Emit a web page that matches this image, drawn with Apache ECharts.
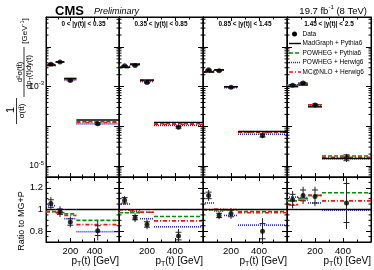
<!DOCTYPE html>
<html><head><meta charset="utf-8">
<script src="https://cdn.jsdelivr.net/npm/echarts@6/dist/echarts.min.js"></script>
<style>html,body{margin:0;padding:0;background:#fff}#c{width:374px;height:270px}</style>
</head><body><div id="c"></div>
<script>
// ---------------- data ----------------
const binEdges = [0, 80, 150, 250, 600];
const binCenters = [40, 115, 200, 425];
const panelTitles = ['0 < |y(t)| < 0.35', '0.35 < |y(t)| < 0.85', '0.85 < |y(t)| < 1.45', '1.45 < |y(t)| < 2.5'];
// MadGraph + Pythia6 absolute prediction [GeV^-1], per |y| panel, per pT bin
const mgPythia = [
  [3.5e-3, 4.25e-3, 1.62e-3, 1.45e-4],
  [3.1e-3, 3.7e-3, 1.47e-3, 1.26e-4],
  [2.35e-3, 2.65e-3, 1.0e-3, 7.4e-5],
  [1.0e-3, 1.1e-3, 3.1e-4, 1.55e-5]
];
// ratios to MadGraph + Pythia6
const dataRatio = [
  [1.055, 0.98, 0.885, 0.805],
  [1.085, 0.925, 0.862, 0.755],
  [1.13, 0.945, 0.963, 0.80],
  [1.09, 1.13, 1.12, 1.06]
];
const dataTotErr = [
  [0.06, 0.05, 0.05, 0.09],
  [0.04, 0.04, 0.045, 0.065],
  [0.05, 0.035, 0.05, 0.12],
  [0.08, 0.08, 0.09, 0.24]
];
const dataStatErr = [
  [0.035, 0.025, 0.03, 0.045],
  [0.025, 0.02, 0.025, 0.035],
  [0.03, 0.02, 0.03, 0.07],
  [0.05, 0.05, 0.06, 0.18]
];
const powhegPythiaRatio = [
  [0.98, 0.97, 0.96, 0.90],
  [0.97, 0.97, 0.975, 0.935],
  [0.995, 0.995, 0.995, 0.98],
  [1.08, 1.10, 1.13, 1.155]
];
const powhegHerwigRatio = [
  [1.035, 0.975, 0.915, 0.795],
  [1.05, 0.98, 0.915, 0.84],
  [1.06, 0.985, 0.945, 0.856],
  [1.115, 1.11, 1.06, 0.995]
];
const mcnloRatio = [
  [0.98, 0.97, 0.945, 0.86],
  [0.995, 0.99, 0.975, 0.895],
  [1.0, 1.005, 1.0, 0.97],
  [1.045, 1.085, 1.13, 1.08]
];
const xTickLabels = [200, 400];
const logLabelExps = [-3, -5];
const logMinorTicks = [6e-6,7e-6,8e-6,9e-6, 2e-5,3e-5,4e-5,5e-5,6e-5,7e-5,8e-5,9e-5,
  2e-4,3e-4,4e-4,5e-4,6e-4,7e-4,8e-4,9e-4, 2e-3,3e-3,4e-3,5e-3,6e-3,7e-3,8e-3,9e-3, 2e-2,3e-2,4e-2,5e-2];
const ratioLabels = [0.8, 1, 1.2];
const ratioMinorTicks = [0.75, 0.85, 0.9, 0.95, 1.05, 1.1, 1.15, 1.25];

// ---------------- layout / style ----------------
const F = 'Liberation Sans, Arial, Helvetica, sans-serif';
const PX = [[46, 73], [119, 84], [203, 84], [287, 84]];
const TOP = [17, 160], RAT = [177, 65];
const C_MG = '#000000', C_PP = '#0a8a0a', C_PH = '#2020ff', C_MC = '#ff1010';
const D_PP = [4, 2], D_PH = [1, 1], D_MC = [4, 2, 1, 2];

const chart = echarts.init(document.getElementById('c'), null, {renderer: 'canvas'});
const grids = [], xAxes = [], yAxes = [], series = [];
const blk = {color: '#000', width: 1};

for (let g = 0; g < 8; g++) {
  const p = g % 4, [gx, gw] = PX[p], [gy, gh] = g < 4 ? TOP : RAT;
  grids.push({left: gx, top: gy, width: gw, height: gh, show: true, borderColor: '#000', borderWidth: 1,
    backgroundColor: 'transparent', containLabel: false, outerBoundsMode: 'none'});
}
for (let k = 0; k < 2; k++) {
  for (let g = 0; g < 8; g++) {
    const bottomLabels = (k === 0 && g >= 4);
    xAxes.push({type: 'value', gridIndex: g, min: 0, max: 600, interval: 200,
      position: k === 0 ? 'bottom' : 'top',
      axisLine: {show: true, onZero: false, lineStyle: blk},
      axisTick: {show: true, inside: true, length: 4, lineStyle: blk},
      minorTick: {show: true, splitNumber: 2, length: 2.5, lineStyle: blk},
      splitLine: {show: false}, minorSplitLine: {show: false},
      axisLabel: bottomLabels ? {show: true, margin: 4, fontSize: 9.5, fontFamily: F, color: '#000',
        showMinLabel: false, showMaxLabel: false,
        formatter: v => xTickLabels.indexOf(Math.round(v)) >= 0 ? String(Math.round(v)) : ''} : {show: false}
    });
  }
}
for (let k = 0; k < 2; k++) {
  for (let g = 0; g < 8; g++) {
    const p = g % 4, withLabels = (k === 0 && p === 0);
    const common = {gridIndex: g, position: k === 0 ? 'left' : 'right',
      axisLine: {show: true, onZero: false, lineStyle: blk},
      axisTick: {show: true, inside: true, length: 5, lineStyle: blk},
      splitLine: {show: false}};
    if (g < 4) {
      yAxes.push(Object.assign({type: 'log', logBase: 10, min: 5.3e-6, max: 0.057,
        axisLabel: withLabels ? {show: true, margin: 2, color: '#000', fontFamily: F,
          formatter: v => {
            const e = Math.round(Math.log10(v));
            if (Math.abs(Math.log10(v) - e) > 0.01 || logLabelExps.indexOf(e) < 0) return '';
            return '{a|10}{b|' + e + '}';
          },
          rich: {a: {fontSize: 8.5, fontFamily: F, color: '#000', lineHeight: 12},
                 b: {fontSize: 6, fontFamily: F, color: '#000', verticalAlign: 'top'}}} : {show: false}
      }, common));
    } else {
      yAxes.push(Object.assign({type: 'value', min: 0.7, max: 1.3, splitNumber: 3,
        axisLabel: withLabels ? {show: true, margin: 3, color: '#000', fontFamily: F, fontSize: 9.5,
          showMinLabel: false, showMaxLabel: false,
          formatter: v => {
            for (const r of ratioLabels) if (Math.abs(v - r) < 1e-6) return String(r);
            return '';
          }} : {show: false}
      }, common));
    }
  }
}

function tickSeries(g, values, len) {
  return {type: 'custom', xAxisIndex: g, yAxisIndex: g, silent: true, z: 6,
    data: values.map(v => [300, v]), encode: {x: 0, y: 1},
    renderItem(params, api) {
      const cs = params.coordSys, y = api.coord([300, api.value(1)])[1];
      return {type: 'group', children: [
        {type: 'line', shape: {x1: cs.x, y1: y, x2: cs.x + len, y2: y}, style: {stroke: '#000', lineWidth: 1}},
        {type: 'line', shape: {x1: cs.x + cs.width - len, y1: y, x2: cs.x + cs.width, y2: y}, style: {stroke: '#000', lineWidth: 1}}
      ]};
    }};
}
function segSeries(name, g, vals, color, dash, width, z) {
  return {type: 'custom', name, xAxisIndex: g, yAxisIndex: g, z, silent: true,
    data: vals.map((v, b) => [binEdges[b], binEdges[b + 1], v]), encode: {x: [0, 1], y: 2},
    renderItem(params, api) {
      const a = api.coord([api.value(0), api.value(2)]), b = api.coord([api.value(1), api.value(2)]);
      return {type: 'line', shape: {x1: a[0], y1: a[1], x2: b[0], y2: b[1]},
        style: {stroke: color, lineWidth: width, lineDash: dash}};
    }};
}
function errSeries(g, rows) {
  return {type: 'custom', xAxisIndex: g, yAxisIndex: g, z: 9, silent: true, data: rows,
    encode: {x: 0, y: 1},
    renderItem(params, api) {
      const x = api.value(0);
      const hi = api.coord([x, api.value(3)]), lo = api.coord([x, api.value(2)]);
      const s1 = api.coord([x, api.value(5)]), s2 = api.coord([x, api.value(4)]);
      const st = {stroke: '#222', lineWidth: 1};
      return {type: 'group', children: [
        {type: 'line', shape: {x1: hi[0], y1: hi[1], x2: lo[0], y2: lo[1]}, style: st},
        {type: 'line', shape: {x1: s1[0] - 3, y1: s1[1], x2: s1[0] + 3, y2: s1[1]}, style: st},
        {type: 'line', shape: {x1: s2[0] - 3, y1: s2[1], x2: s2[0] + 3, y2: s2[1]}, style: st}
      ]};
    }};
}

for (let p = 0; p < 4; p++) {
  const gt = p, gr = 4 + p;
  const mg = mgPythia[p];
  const mult = r => mg.map((m, b) => m * r[p][b]);
  // top (absolute)
  series.push(tickSeries(gt, logMinorTicks, 2.5));
  series.push(segSeries('POWHEG + Herwig6', gt, mult(powhegHerwigRatio), C_PH, D_PH, 1.6, 3));
  series.push(segSeries('POWHEG + Pythia6', gt, mult(powhegPythiaRatio), C_PP, D_PP, 1.6, 3));
  series.push(segSeries('MC@NLO + Herwig6', gt, mult(mcnloRatio), C_MC, D_MC, 1.6, 3));
  series.push(segSeries('MadGraph + Pythia6', gt, mg, C_MG, null, 1.4, 4));
  const dTop = mult(dataRatio);
  series.push(errSeries(gt, binCenters.map((x, b) => [x, dTop[b],
    mg[b] * (dataRatio[p][b] - dataTotErr[p][b]), mg[b] * (dataRatio[p][b] + dataTotErr[p][b]),
    mg[b] * (dataRatio[p][b] - dataStatErr[p][b]), mg[b] * (dataRatio[p][b] + dataStatErr[p][b])])));
  series.push({type: 'scatter', name: 'Data', xAxisIndex: gt, yAxisIndex: gt, z: 10, silent: true,
    symbol: 'circle', symbolSize: 5, itemStyle: {color: '#000'},
    data: binCenters.map((x, b) => [x, dTop[b]])});
  // ratio
  series.push(tickSeries(gr, ratioMinorTicks, 2.5));
  series.push(segSeries('POWHEG + Herwig6', gr, powhegHerwigRatio[p], C_PH, D_PH, 1.6, 3));
  series.push(segSeries('POWHEG + Pythia6', gr, powhegPythiaRatio[p], C_PP, D_PP, 1.6, 3));
  series.push(segSeries('MC@NLO + Herwig6', gr, mcnloRatio[p], C_MC, D_MC, 1.6, 3));
  series.push(segSeries('MadGraph + Pythia6', gr, mg.map(() => 1), C_MG, null, 1.4, 4));
  series.push(errSeries(gr, binCenters.map((x, b) => [x, dataRatio[p][b],
    dataRatio[p][b] - dataTotErr[p][b], dataRatio[p][b] + dataTotErr[p][b],
    dataRatio[p][b] - dataStatErr[p][b], dataRatio[p][b] + dataStatErr[p][b]])));
  series.push({type: 'scatter', name: 'Data', xAxisIndex: gr, yAxisIndex: gr, z: 10, silent: true,
    symbol: 'circle', symbolSize: 5, itemStyle: {color: '#000'},
    data: binCenters.map((x, b) => [x, dataRatio[p][b]])});
}

// ---------------- text & legend ----------------
const T = (x, y, text, o) => Object.assign({type: 'text', x, y, silent: true,
  style: Object.assign({text, fill: '#000', fontFamily: F, fontSize: 9, align: 'left', verticalAlign: 'middle'}, o || {})});
const L = (x1, y1, x2, y2, color, dash, w) => ({type: 'line', silent: true,
  shape: {x1, y1, x2, y2}, style: {stroke: color, lineWidth: w || 1.5, lineDash: dash}});
const graphics = [];
graphics.push(T(55, 11, 'CMS', {fontSize: 13, fontWeight: 'bold'}));
graphics.push(T(94, 11, 'Preliminary', {fontSize: 9, fontStyle: 'italic'}));
graphics.push(T(367, 11, '{m|19.7 fb}{s|-1}{m| (8 TeV)}', {align: 'right',
  rich: {m: {fontSize: 9.5, fontFamily: F, lineHeight: 13}, s: {fontSize: 6, fontFamily: F, verticalAlign: 'top'}}}));
for (let p = 0; p < 4; p++) {
  const [gx, gw] = PX[p];
  graphics.push(T(gx + gw / 2 + (p === 0 ? 1 : 0), 24.5, panelTitles[p], {fontSize: 6.4, fontWeight: 'bold', align: 'center'}));
  graphics.push(T(gx + gw, 261, '{m|p}{s|T}{m|(t) [GeV]}', {align: 'right',
    rich: {m: {fontSize: 10, fontFamily: F, lineHeight: 14}, s: {fontSize: 7, fontFamily: F, verticalAlign: 'bottom'}}}));
}
// legend
const lx = 289, tx = 302.5, rows = [34, 43.5, 53, 62.5, 72];
graphics.push({type: 'circle', silent: true, shape: {cx: 294.5, cy: rows[0], r: 2.5}, style: {fill: '#000'}});
graphics.push(L(lx, rows[1], 301, rows[1], C_MG, null, 1.4));
graphics.push(L(lx, rows[2], 301, rows[2], C_PP, D_PP, 1.6));
graphics.push(L(lx, rows[3], 301, rows[3], C_PH, D_PH, 1.6));
graphics.push(L(lx, rows[4], 301, rows[4], C_MC, D_MC, 1.6));
['Data', 'MadGraph + Pythia6', 'POWHEG + Pythia6', 'POWHEG + Herwig6', 'MC@NLO + Herwig6'].forEach((s, i) =>
  graphics.push(T(tx, rows[i], s, {fontSize: 6.5})));
// y axis titles (rotated)
const R = Math.PI / 2;
graphics.push(Object.assign(T(11, 110, '1', {fontSize: 11, align: 'center'}), {rotation: R}));
graphics.push(L(16.5, 98, 16.5, 124, '#000', null, 0.8));
graphics.push(Object.assign(T(22, 111, 'σ(tt̄)', {fontSize: 8, align: 'center'}), {rotation: R}));
graphics.push(Object.assign(T(19.5, 72, 'd²σ(tt̄)', {fontSize: 7.5, align: 'center'}), {rotation: R}));
graphics.push(L(24, 47, 24, 97, '#000', null, 0.8));
graphics.push(Object.assign(T(29, 72, '{m|dp}{s|T}{m|(t)dy(t)}', {align: 'center',
  rich: {m: {fontSize: 7.5, fontFamily: F, lineHeight: 10}, s: {fontSize: 5.5, fontFamily: F, verticalAlign: 'bottom'}}}), {rotation: R}));
graphics.push(Object.assign(T(25, 31, '{m|[GeV}{s|-1}{m|]}', {align: 'center',
  rich: {m: {fontSize: 8, fontFamily: F, lineHeight: 11}, s: {fontSize: 5.5, fontFamily: F, verticalAlign: 'top'}}}), {rotation: R}));
graphics.push(Object.assign(T(22, 221, 'Ratio to MG+P', {fontSize: 9, align: 'center'}), {rotation: R}));

chart.setOption({
  animation: false,
  backgroundColor: '#fff',
  textStyle: {fontFamily: F},
  grid: grids, xAxis: xAxes, yAxis: yAxes, series,
  graphic: {elements: graphics}
});
</script></body></html>
